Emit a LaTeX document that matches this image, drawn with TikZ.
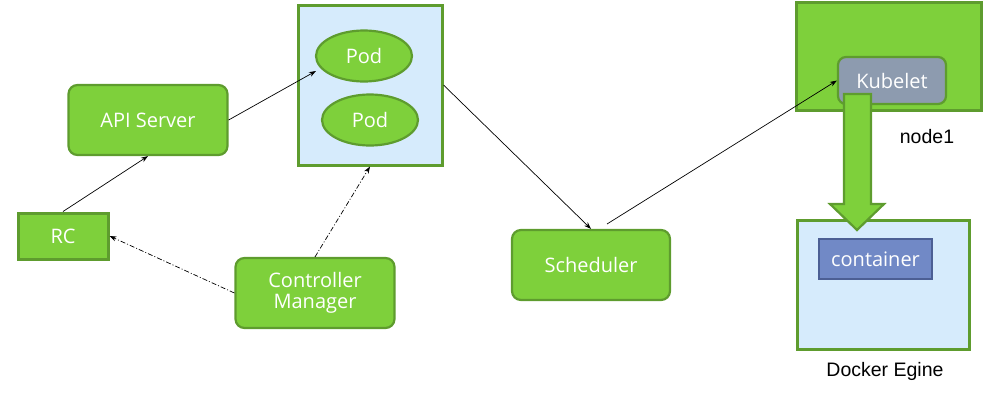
\documentclass[tikz,border=0pt]{standalone}
\usepackage{fontspec}
\setmainfont{Open Sans}
\newfontfamily\arialf{Liberation Sans}
\usetikzlibrary{shapes.geometric,arrows.meta}
\definecolor{gfill}{HTML}{7ED03B}
\definecolor{gline}{HTML}{5E9C2E}
\definecolor{lblue}{HTML}{D6EBFC}
\definecolor{kgrey}{HTML}{8D9BAF}
\definecolor{cblue}{HTML}{7189C6}
\definecolor{cline}{HTML}{4C5F94}
\tikzset{
  wfont/.style={text=white,font=\fontsize{20}{22}\selectfont},
  gbox/.style={draw=gline,line width=2.2pt,fill=gfill,rounded corners=9pt,wfont,align=center,inner sep=0pt},
  sqbox/.style={draw=gline,line width=3pt,fill=gfill,wfont,inner sep=0pt},
  podell/.style={ellipse,draw=gline,line width=2.2pt,fill=gfill,wfont,inner sep=0pt},
  bluebox/.style={draw=gline,line width=3pt,fill=lblue,inner sep=0pt},
  arr/.style={-{Stealth[length=7pt,width=5pt]},line width=0.7pt,black},
  dd/.style={arr,dash pattern=on 5pt off 2pt on 1pt off 2pt},
  lbl/.style={font=\arialf\fontsize{19.5}{22}\selectfont,text=black}
}
\begin{document}
\begin{tikzpicture}[x=1pt,y=-1pt]
\useasboundingbox (0,0) rectangle (998,402);
% pod container
\node[bluebox,minimum width=144pt,minimum height=160pt] (podbox) at (370,85) {};
\node[podell,minimum width=96pt,minimum height=51pt] (pod1) at (364,56) {Pod};
\node[podell,minimum width=96pt,minimum height=51pt] (pod2) at (370,120) {Pod};
% left nodes
\node[gbox,minimum width=159pt,minimum height=70pt] (api) at (148,120) {API Server};
\node[sqbox,minimum width=90pt,minimum height=46pt] (rc) at (63,236) {RC};
\node[gbox,minimum width=159pt,minimum height=70pt] (cm) at (315,293) {Controller\\[-1pt]Manager};
\node[gbox,minimum width=158pt,minimum height=70pt] (sched) at (591,265) {Scheduler};
% node1
\node[sqbox,minimum width=185pt,minimum height=108pt] (node1) at (888.5,56) {};
\node[draw=gline,line width=2.2pt,fill=kgrey,rounded corners=8pt,wfont,inner sep=0pt,minimum width=108pt,minimum height=47pt] (kubelet) at (892,80.5) {Kubelet};
\node[lbl] (n1lbl) at (927,137) {node1};
% docker
\node[bluebox,minimum width=172pt,minimum height=129pt] (docker) at (883,284.5) {};
\node[draw=cline,line width=2.5pt,fill=cblue,wfont,inner sep=0pt,minimum width=113pt,minimum height=40pt] (cont) at (875.5,259) {container};
\node[lbl] (dlbl) at (885,371) {Docker Egine};
% big arrow
\draw[gline,line width=2.2pt,fill=gfill,line join=miter]
  (844,94) -- (871,94) -- (871,204) -- (884,204) -- (857,230) -- (830,204) -- (844,204) -- cycle;
% connectors
\coordinate (p1in) at (316,71);
\coordinate (s1) at (607,224);
\draw[arr] (rc.north) -- (api.south);
\draw[arr] (api.east) -- (p1in);
\draw[arr] (podbox.east) -- (sched.north);
\draw[arr] (s1) -- (kubelet.west);
\draw[dd] (cm.west) -- (rc.east);
\draw[dd] (cm.north) -- (podbox.south);
\end{tikzpicture}
\end{document}
